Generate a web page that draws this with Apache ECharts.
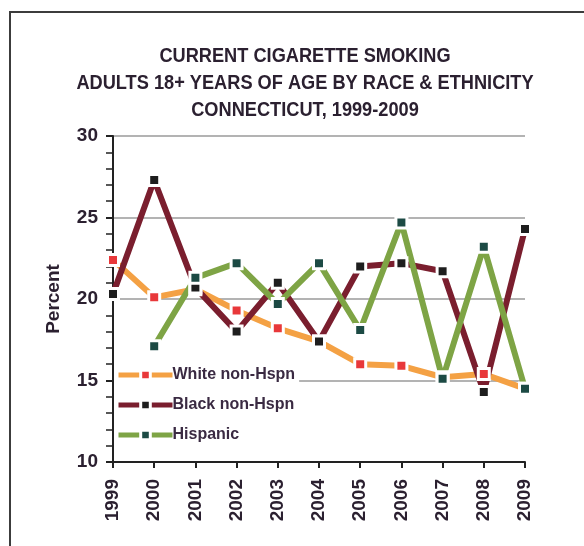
<!DOCTYPE html>
<html>
<head>
<meta charset="utf-8">
<script src="https://cdn.jsdelivr.net/npm/echarts@6/dist/echarts.min.js"></script>
<style>
  html, body { margin: 0; padding: 0; background: #fff; overflow: hidden; }
  #frame { position: absolute; left: 9px; top: 11px; width: 600px; height: 600px;
           border: 2px solid #3c3c3c; }
  #chart { position: absolute; left: 0; top: 0; width: 584px; height: 546px; }
</style>
</head>
<body>
<div id="frame"></div>
<div id="chart"></div>
<script>
// Current cigarette smoking, adults 18+, Connecticut 1999-2009 (percent)
const years = ['1999','2000','2001','2002','2003','2004','2005','2006','2007','2008','2009'];
const white    = [22.4, 20.1, 20.6, 19.3, 18.2, 17.4, 16.0, 15.9, 15.2, 15.4, 14.5];
const black    = [20.3, 27.3, 20.7, 18.0, 21.0, 17.4, 22.0, 22.2, 21.7, 14.3, 24.3];
const hispanic = [null, 17.1, 21.3, 22.2, 19.7, 22.2, 18.1, 24.7, 15.1, 23.2, 14.5];
const titleLines = ['CURRENT CIGARETTE SMOKING',
                    'ADULTS 18+ YEARS OF AGE BY RACE & ETHNICITY',
                    'CONNECTICUT, 1999-2009'];

const font = '"Liberation Sans", Arial, sans-serif';
const ink = '#2b2030';
const chart = echarts.init(document.getElementById('chart'));

function mkSeries(name, data, lineColor, markColor) {
  return {
    name, type: 'line', data,
    symbol: 'rect', symbolSize: 11,
    lineStyle: { color: lineColor, width: 6 },
    itemStyle: { color: markColor, borderColor: '#fff', borderWidth: 3 },
    emphasis: { disabled: true },
    connectNulls: false
  };
}

// Condensed bold heading, one text element per line
const titleGraphics = titleLines.map((t, i) => ({
  type: 'text', x: 305, y: 56 + i * 27, scaleX: 0.91,
  style: { text: t, font: 'bold 20px ' + font, fill: ink,
           textAlign: 'center', textVerticalAlign: 'middle' }
}));

chart.setOption({
  animation: false,
  textStyle: { fontFamily: font },
  graphic: titleGraphics,
  grid: { left: 113, right: 59, top: 136, bottom: 84 },
  legend: {
    orient: 'vertical', left: 114, top: 365, itemGap: 14,
    itemWidth: 54, itemHeight: 12, backgroundColor: '#fff', padding: [2, 4, 2, 2],
    lineStyle: { width: 5 },
    itemStyle: { borderWidth: 3, borderColor: '#fff' },
    textStyle: { fontFamily: font, fontSize: 16, fontWeight: 'bold', color: '#3a2a42', padding: [0, 0, 0, -5] },
    data: ['White non-Hspn', 'Black non-Hspn', 'Hispanic']
  },
  xAxis: {
    type: 'category', data: years, boundaryGap: false,
    axisLine: { lineStyle: { color: '#222', width: 2 } },
    axisTick: { alignWithLabel: true, length: 6, lineStyle: { color: '#222', width: 2 } },
    axisLabel: { rotate: 90, fontFamily: font, fontSize: 19, fontWeight: 'bold', color: ink, margin: 17 }
  },
  yAxis: {
    type: 'value', min: 10, max: 30, interval: 5,
    name: 'Percent', nameLocation: 'middle', nameGap: 50, nameRotate: 90,
    nameTextStyle: { fontFamily: font, fontSize: 19, fontWeight: 'bold', color: ink },
    axisLine: { show: true, lineStyle: { color: '#222', width: 2 } },
    axisTick: { show: true, length: 7, lineStyle: { color: '#222', width: 2 } },
    minorTick: { show: true, splitNumber: 5, length: 7, lineStyle: { color: '#222', width: 1.5 } },
    axisLabel: { fontFamily: font, fontSize: 19, fontWeight: 'bold', color: ink, margin: 15 },
    splitLine: { show: true, lineStyle: { color: '#9a9a9a', width: 1.5 } }
  },
  series: [
    mkSeries('White non-Hspn', white, '#F4A144', '#E8383A'),
    mkSeries('Black non-Hspn', black, '#7A1E2E', '#1E1E1E'),
    mkSeries('Hispanic', hispanic, '#7EA445', '#1C4A44')
  ]
});
</script>
</body>
</html>
